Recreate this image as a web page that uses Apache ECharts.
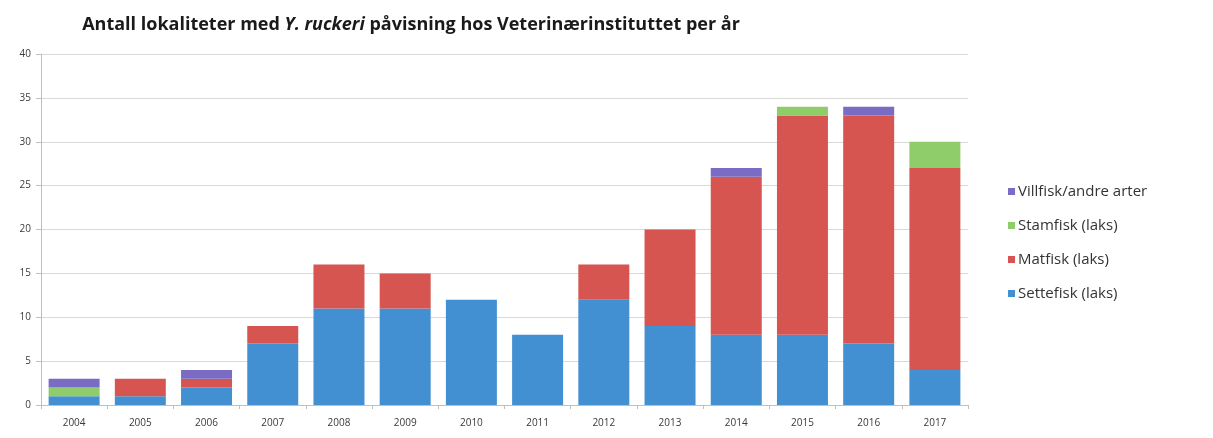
<!DOCTYPE html>
<html>
<head>
<meta charset="utf-8">
<script src="https://cdn.jsdelivr.net/npm/echarts@6/dist/echarts.min.js"></script>
<style>
  html, body { margin: 0; padding: 0; background: #ffffff; }
  #chart { width: 1213px; height: 438px; }
</style>
</head>
<body>
<div id="chart"></div>
<script>
// Years shown on the category axis
const years = ['2004', '2005', '2006', '2007', '2008', '2009', '2010',
               '2011', '2012', '2013', '2014', '2015', '2016', '2017'];

// Number of sites per group and year (stacked bottom to top)
const settefisk = [1, 1, 2, 7, 11, 11, 12, 8, 12, 9, 8, 8, 7, 4];
const matfisk   = [0, 2, 1, 2, 5, 4, 0, 0, 4, 11, 18, 25, 26, 23];
const stamfisk  = [1, 0, 0, 0, 0, 0, 0, 0, 0, 0, 0, 1, 0, 3];
const villfisk  = [1, 0, 1, 0, 0, 0, 0, 0, 0, 0, 1, 0, 1, 0];

// Value axis ticks
const yTicks = [0, 5, 10, 15, 20, 25, 30, 35, 40];

const names = {
  sette: 'Settefisk (laks)',
  mat: 'Matfisk (laks)',
  stam: 'Stamfisk (laks)',
  vill: 'Villfisk/andre arter'
};

const font = '"Open Sans", Lato, sans-serif';

function barSeries(name, data, color) {
  return {
    name: name,
    type: 'bar',
    stack: 'total',
    data: data,
    barCategoryGap: '23%',
    itemStyle: { color: color },
    emphasis: { disabled: true }
  };
}

const chart = echarts.init(document.getElementById('chart'), null, { renderer: 'canvas' });

chart.setOption({
  animation: false,
  backgroundColor: '#ffffff',
  title: {
    left: 406,
    top: 11,
    textAlign: 'center',
    text: '{b|Antall lokaliteter med }{i|Y. ruckeri}{b| påvisning hos Veterinærinstituttet per år}',
    textStyle: {
      rich: {
        b: { fontFamily: font, fontSize: 18, fontWeight: 'bold', color: '#1a1a1a' },
        i: { fontFamily: font, fontSize: 18, fontWeight: 'bold', fontStyle: 'italic', color: '#1a1a1a' }
      }
    }
  },
  legend: {
    orient: 'vertical',
    left: 1003,
    top: 179,
    itemWidth: 7,
    itemHeight: 7,
    itemGap: 19,
    icon: 'rect',
    selectedMode: false,
    data: [names.vill, names.stam, names.mat, names.sette],
    textStyle: { fontFamily: font, fontSize: 15, color: '#333333', padding: [0, 0, 0, -2] }
  },
  grid: {
    left: 41,
    right: 245,
    top: 54,
    bottom: 33,
    containLabel: false
  },
  xAxis: {
    type: 'category',
    data: years,
    axisLine: { show: true, lineStyle: { color: '#bfbfbf', width: 1 } },
    axisTick: { show: true, length: 4, lineStyle: { color: '#bfbfbf' } },
    axisLabel: { fontFamily: font, fontSize: 10, color: '#3a3a3a', margin: 13 }
  },
  yAxis: {
    type: 'value',
    min: yTicks[0],
    max: yTicks[yTicks.length - 1],
    interval: yTicks[1] - yTicks[0],
    axisLine: { show: true, lineStyle: { color: '#bfbfbf', width: 1 } },
    axisTick: { show: true, length: 5, lineStyle: { color: '#bfbfbf' } },
    axisLabel: { fontFamily: font, fontSize: 10, color: '#3a3a3a', margin: 10 },
    splitLine: { show: true, lineStyle: { color: '#d9d9d9', width: 1 } }
  },
  series: [
    barSeries(names.sette, settefisk, '#4290d2'),
    barSeries(names.mat, matfisk, '#d65550'),
    barSeries(names.stam, stamfisk, '#8fcc6a'),
    barSeries(names.vill, villfisk, '#7a6cc4')
  ]
});
</script>
</body>
</html>
